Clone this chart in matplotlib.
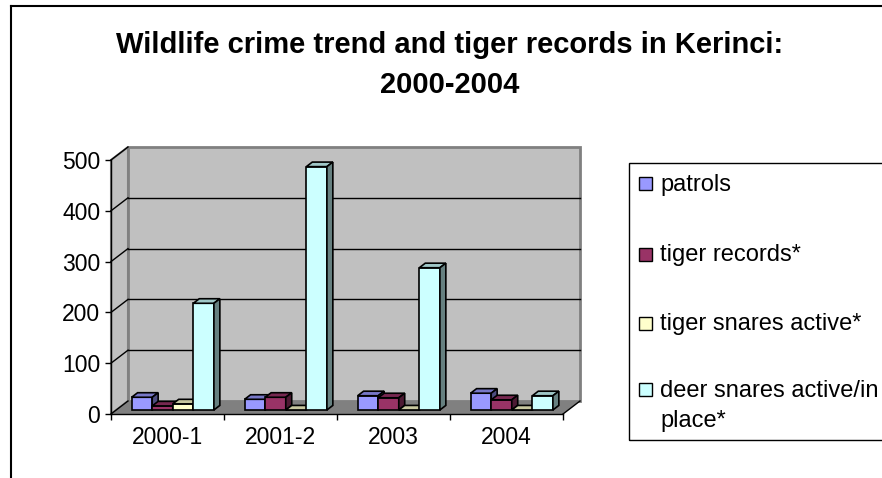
import numpy as np
import matplotlib.pyplot as plt
from matplotlib.patches import Polygon, Rectangle
from matplotlib.lines import Line2D

plt.rcParams['font.family'] = ['Liberation Sans', 'DejaVu Sans']

# data
periods = ['2000-1', '2001-2', '2003', '2004']
labels = ['patrols', 'tiger records*', 'tiger snares active*',
          'deer snares active/in\nplace*']
patrols = [25, 21, 28, 33]
tiger_records = [8, 25, 24, 20]
tiger_snares = [12, 0, 0, 0]
deer_snares = [210, 479, 280, 28]
colours = ['#9999FF', '#993366', '#FFFFCC', '#CCFFFF']

all_series = [patrols, tiger_records, tiger_snares, deer_snares]

W, H = 882, 478


def fx(px):
    return px / W


def fy(py):
    return 1 - py / H


def shade(col, f):
    r, g, b = [int(col[i:i + 2], 16) / 255 for i in (1, 3, 5)]
    return (r * f, g * f, b * f)


fig = plt.figure(figsize=(W / 100, H / 100), dpi=100)
ax = fig.add_axes([fx(111), fy(414), (563 - 111) / W, (414 - 160) / H])
ax.set_xlim(-0.5, 3.5)
ax.set_ylim(0, 500)
ax.patch.set_visible(False)

# depth of the fake 3d box, in data units
DX = 17 / 113
DY = 13 / 0.508
x0, x1 = -0.5, 3.5

# walls and floor
side = Polygon([(x0, 0), (x0, 500), (x0 + DX, 500 + DY), (x0 + DX, DY)],
               closed=True, facecolor='#C0C0C0', edgecolor='#808080', lw=1.5,
               clip_on=False, zorder=0.5)
back = Polygon([(x0 + DX, DY), (x0 + DX, 500 + DY), (x1 + DX, 500 + DY), (x1 + DX, DY)],
               closed=True, facecolor='#C0C0C0', edgecolor='#808080', lw=2,
               clip_on=False, zorder=0.5)
floor = Polygon([(x0, 0), (x1, 0), (x1 + DX, DY), (x0 + DX, DY)],
                closed=True, facecolor='#808080', edgecolor='none',
                clip_on=False, zorder=0.6)
ax.add_patch(side)
ax.add_patch(back)
ax.add_patch(floor)
ax.plot([x1, x1 + DX], [0, DY], color='black', lw=1, clip_on=False, zorder=0.7)
ax.plot([x0, x0 + DX], [0, DY], color='black', lw=1, clip_on=False, zorder=0.7)
for v in range(100, 501, 100):
    ax.plot([x0, x0 + DX], [v, v + DY], color='black', lw=1, clip_on=False, zorder=0.7)
    if v < 500:
        ax.plot([x0 + DX, x1 + DX], [v + DY, v + DY], color='black', lw=1,
                clip_on=False, zorder=0.7)

# bars
bw = 0.182
d0, d1 = 0.31, 0.66
ddx = (d1 - d0) * DX
ddy = (d1 - d0) * DY
base = d0 * DY
for k, vals in enumerate(all_series):
    xs = np.arange(len(periods)) + d0 * DX - 2 * bw + k * bw
    bars = ax.bar(xs, vals, width=bw, bottom=base, align='edge',
                  color=colours[k], edgecolor='black', lw=1.2)
    for i, (rect, v) in enumerate(zip(bars, vals)):
        z = 3 + 10 * i + k
        rect.set_zorder(z)
        xl = xs[i]
        top = base + v
        ax.add_patch(Polygon([(xl, top), (xl + bw, top), (xl + bw + ddx, top + ddy),
                              (xl + ddx, top + ddy)], closed=True,
                             facecolor=shade(colours[k], 0.78), edgecolor='black',
                             lw=1.2, zorder=z, clip_on=False))
        ax.add_patch(Polygon([(xl + bw, base), (xl + bw, top), (xl + bw + ddx, top + ddy),
                              (xl + bw + ddx, base + ddy)], closed=True,
                             facecolor=shade(colours[k], 0.5), edgecolor='black',
                             lw=1.2, zorder=z, clip_on=False))

# axes
for s in ['top', 'right']:
    ax.spines[s].set_visible(False)
for s in ['left', 'bottom']:
    ax.spines[s].set_color('black')
    ax.spines[s].set_linewidth(1)
    ax.spines[s].set_zorder(1)
ax.set_yticks(range(0, 501, 100))
ax.tick_params(axis='y', length=4.3, width=1, pad=3.5, labelsize=16.5)
ax.set_xticks([-0.5, 0.5, 1.5, 2.5, 3.5])
ax.set_xticklabels([])
ax.set_xticks(range(len(periods)), minor=True)
ax.set_xticklabels(periods, minor=True)
ax.tick_params(axis='x', which='major', length=4.3, width=1)
ax.tick_params(axis='x', which='minor', length=0, pad=9, labelsize=16.5)

# title
fig.text(fx(450), fy(53), 'Wildlife crime trend and tiger records in Kerinci:',
         ha='center', va='baseline', fontsize=21, fontweight='bold')
fig.text(fx(450), fy(93), '2000-2004', ha='center', va='baseline',
         fontsize=21, fontweight='bold')

# legend
fig.add_artist(Rectangle((fx(629), fy(440)), fx(940 - 629), (440 - 163) / H,
                         transform=fig.transFigure, fill=False, edgecolor='black', lw=1))
baselines = [190.7, 261, 330, 396.7]
for lab, col, yb in zip(labels, colours, baselines):
    fig.add_artist(Rectangle((fx(639), fy(yb - 0.5)), fx(13), 13 / H,
                             transform=fig.transFigure, facecolor=col,
                             edgecolor='black', lw=1))
    for j, line in enumerate(lab.split('\n')):
        fig.text(fx(660), fy(yb + 30 * j), line, ha='left', va='baseline', fontsize=17)

# outer frame
fig.add_artist(Line2D([fx(11), 1], [fy(6), fy(6)], color='black', lw=1.5,
                      transform=fig.transFigure))
fig.add_artist(Line2D([fx(11), fx(11)], [fy(6), 0], color='black', lw=1.5,
                      transform=fig.transFigure))

fig.savefig('out.png', dpi=100)
